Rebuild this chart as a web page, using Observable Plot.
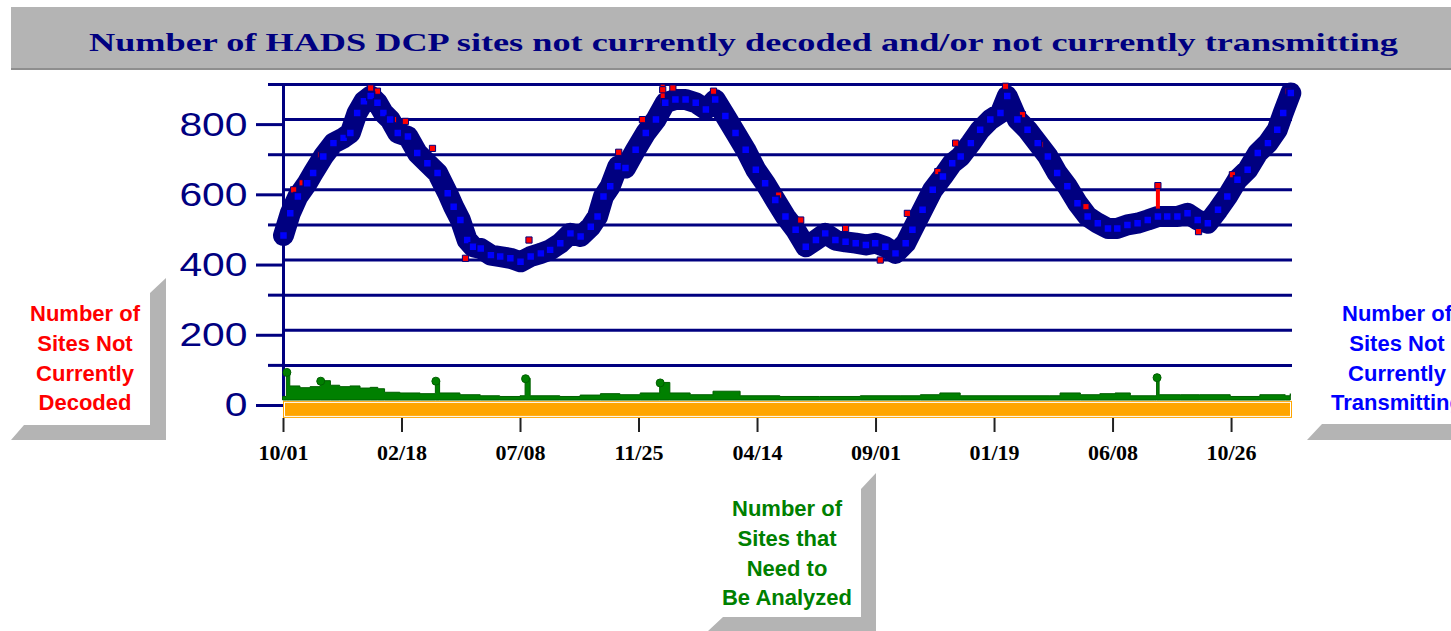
<!DOCTYPE html>
<html>
<head>
<meta charset="utf-8">
<script src="https://cdn.jsdelivr.net/npm/d3@7"></script>
<script src="https://cdn.jsdelivr.net/npm/@observablehq/plot@0.6"></script>
<style>
html, body { margin: 0; padding: 0; background: #fff; }
#page { position: relative; width: 1451px; height: 631px; overflow: hidden; background: #fff; }
#titlebar { position: absolute; left: 11px; top: 7px; width: 1440px; height: 61px; background: #b4b4b4; border-bottom: 2px solid #8e8e8e; }
#titlesvg { position: absolute; left: 0; top: 0; }
#decor { position: absolute; left: 0; top: 0; }
#chart { position: absolute; left: 0; top: 0; }
.callout { position: absolute; font-family: "Liberation Sans", Arial, sans-serif; font-weight: bold; font-size: 22px; line-height: 29.8px; text-align: center; white-space: nowrap; }
</style>
</head>
<body>
<div id="page">
  <div id="titlebar"></div>
  <svg id="titlesvg" width="1451" height="72">
    <text x="89" y="51" textLength="1309" lengthAdjust="spacingAndGlyphs" font-family="Liberation Serif, Times New Roman, serif" font-weight="bold" font-size="25.5" fill="#000080">Number of HADS DCP sites not currently decoded and/or not currently transmitting</text>
  </svg>
  <svg id="decor" width="1451" height="631">
    <polygon points="150,293 166,278 166,440 11,440 24,425 150,425" fill="#b4b4b4"/>
    <polygon points="1307,440 1322,424 1451,424 1451,440" fill="#b4b4b4"/>
    <polygon points="861,489 876,473 876,631 708,631 723,617 861,617" fill="#b4b4b4"/>
  </svg>
  <div id="chart"></div>
  <div class="callout" style="left:5px; top:299px; width:160px; color:#ff0000;">Number of<br>Sites Not<br>Currently<br>Decoded</div>
  <div class="callout" style="left:1297px; top:299px; width:200px; color:#0000ff;">Number of<br>Sites Not<br>Currently<br>Transmitting</div>
  <div class="callout" style="left:687px; top:494px; width:200px; color:#008000;">Number of<br>Sites that<br>Need to<br>Be Analyzed</div>
</div>
<script>
// ---- Data (days since 10/01 start) ----
const startISO = "2012-10-01";
const totalDays = 1192;

// Sites not currently transmitting (blue)
const blueDays = [0,8,17,28,35,47,59,71,79,87,95,103,111,118,126,135,147,158,170,182,194,201,209,217,224,233,245,256,268,280,292,304,315,327,339,351,363,371,378,386,395,404,416,428,440,451,463,475,487,499,510,522,534,546,558,569,581,593,605,617,629,640,652,664,676,688,699,711,723,735,743,755,767,779,790,800,812,823,835,847,855,867,879,891,903,914,926,938,950,962,974,985,997,1009,1021,1033,1044,1056,1068,1080,1092,1104,1115,1127,1139,1151,1163,1174,1181,1190];
const blueValues = [470,533,581,619,648,695,733,748,762,819,852,867,848,819,800,762,752,705,676,648,590,552,514,457,438,433,414,410,405,395,410,419,429,448,476,467,495,524,581,610,667,662,714,762,800,848,857,857,848,829,857,810,762,714,657,619,571,524,486,438,457,476,457,452,448,443,448,438,419,448,486,543,600,638,676,695,733,771,800,819,867,800,771,733,695,648,610,562,524,505,490,490,500,505,514,524,524,524,533,514,505,543,581,629,657,705,733,771,819,876];

// Sites not currently decoded (red) – visible above the blue band
const redDays = [12,22,44,103,111,130,144,176,215,290,396,424,448,460,508,585,611,664,705,737,773,794,853,873,894,948,1033,1081,1121,1187];
const redValues = [600,620,700,890,881,800,795,718,405,457,707,800,885,890,881,585,514,490,400,533,652,733,895,814,729,552,612,481,643,881];
const redStemDays = [448,1033];
const redStemLow = [845,545];
const redStemHigh = [898,612];

// Sites that need to be analyzed (green)
const greenDays = [0,4,8,20,32,44,56,67,79,91,103,112,120,138,162,180,185,209,233,256,280,286,292,327,351,375,398,422,445,457,481,508,540,587,634,682,729,753,776,800,847,906,918,942,965,983,1001,1030,1032,1035,1060,1083,1119,1154,1184,1190];
const greenValues = [10,80,40,35,38,55,42,38,40,34,36,32,22,20,18,55,20,15,12,10,12,62,12,10,14,18,15,20,50,20,15,25,12,10,10,12,12,15,20,12,12,12,20,15,18,20,12,12,65,15,15,15,10,15,12,18];

// Orange strip beneath the zero line
const stripLow = [-51];
const stripHigh = [-2.5];

// Axis ticks
const yMajorTicks = [0, 200, 400, 600, 800];
const yMinorTicks = [100, 300, 500, 700, 900];
const gridValues = [100, 200, 300, 400, 500, 600, 700, 800, 900];
const xTickDates = ["2012-10-01","2013-02-18","2013-07-08","2013-11-25","2014-04-14","2014-09-01","2015-01-19","2015-06-08","2015-10-26"];
const xTickLabels = ["10/01","02/18","07/08","11/25","04/14","09/01","01/19","06/08","10/26"];

// ---- Build ----
const NAVY = "#000080";
const parse = d3.utcParse("%Y-%m-%d");
const fmt = d3.utcFormat("%Y-%m-%d");
const start = parse(startISO);
const toDate = d => d3.utcDay.offset(start, d);
const end = toDate(totalDays);

const blue = blueDays.map((d, i) => ({date: toDate(d), value: blueValues[i]}));
const red = redDays.map((d, i) => ({date: toDate(d), value: redValues[i]}));
const redStems = redStemDays.map((d, i) => ({date: toDate(d), lo: redStemLow[i], hi: redStemHigh[i]}));
const green = greenDays.map((d, i) => ({date: toDate(d), value: greenValues[i]}));
const strip = stripLow.map((lo, i) => ({x1: start, x2: end, lo, hi: stripHigh[i]}));
const xTicks = xTickDates.map(parse);
const labelOf = new Map(xTickDates.map((d, i) => [d, xTickLabels[i]]));

const chart = Plot.plot({
  width: 1451,
  height: 470,
  marginLeft: 283,
  marginRight: 159,
  marginTop: 84,
  marginBottom: 52,
  style: {background: "transparent", overflow: "visible"},
  x: {type: "utc", domain: [start, end], label: null},
  y: {domain: [-51.3, 900], label: null},
  marks: [
    Plot.ruleY(gridValues, {stroke: NAVY, strokeWidth: 3}),
    Plot.ruleX([start], {y1: 0, y2: 900, stroke: NAVY, strokeWidth: 3}),
    Plot.rect(strip, {x1: "x1", x2: "x2", y1: "lo", y2: "hi", fill: "#ffa500"}),
    Plot.rect(strip, {x1: "x1", x2: "x2", y1: "lo", y2: "hi", fill: "#ffa500", stroke: "#ffffff", strokeWidth: 1, inset: 1.5}),
    Plot.areaY(green, {x: "date", y: "value", curve: "step-after", fill: "#008000", stroke: "#005f00", strokeWidth: 1}),
    Plot.dot(green.filter(d => d.value >= 50), {x: "date", y: "value", r: 4, fill: "#008000", stroke: "#005f00", strokeWidth: 1}),
    Plot.line(blue, {x: "date", y: "value", stroke: NAVY, strokeWidth: 21, strokeLinejoin: "round"}),
    Plot.ruleX(redStems, {x: "date", y1: "lo", y2: "hi", stroke: "#ff0000", strokeWidth: 4}),
    Plot.dot(red, {x: "date", y: "value", symbol: "square", r: 3.5, fill: "#ff0000", stroke: NAVY, strokeWidth: 1}),
    Plot.dot(blue, {x: "date", y: "value", symbol: "square", r: 4.5, fill: "#0000ff", stroke: NAVY, strokeWidth: 1.5}),
    Plot.axisY(yMajorTicks, {tickSize: 27, tickPadding: 9, fontSize: 34, fontFamily: "Liberation Sans, Arial, sans-serif", stroke: NAVY, fill: NAVY, color: NAVY, strokeWidth: 3, dy: 5, tickFormat: d => String(d), label: null}),
    Plot.axisY(yMinorTicks, {tickSize: 15, stroke: NAVY, color: NAVY, strokeWidth: 3, tickFormat: () => "", label: null}),
    Plot.axisX(xTicks, {tickSize: 14, tickPadding: 12, fontSize: 22, fontWeight: "bold", fontFamily: "Liberation Serif, Times New Roman, serif", stroke: "#222", fill: "#000", color: "#000", strokeWidth: 2, tickFormat: d => labelOf.get(fmt(d)), label: null})
  ]
});
document.getElementById("chart").appendChild(chart);

// widen the y tick labels like the original bitmap font
chart.querySelectorAll('g[aria-label="y-axis tick label"] text').forEach(t => {
  const w = t.getComputedTextLength();
  if (w > 0) {
    t.setAttribute("textLength", (w * 1.2).toFixed(1));
    t.setAttribute("lengthAdjust", "spacingAndGlyphs");
  }
});
</script>
</body>
</html>
